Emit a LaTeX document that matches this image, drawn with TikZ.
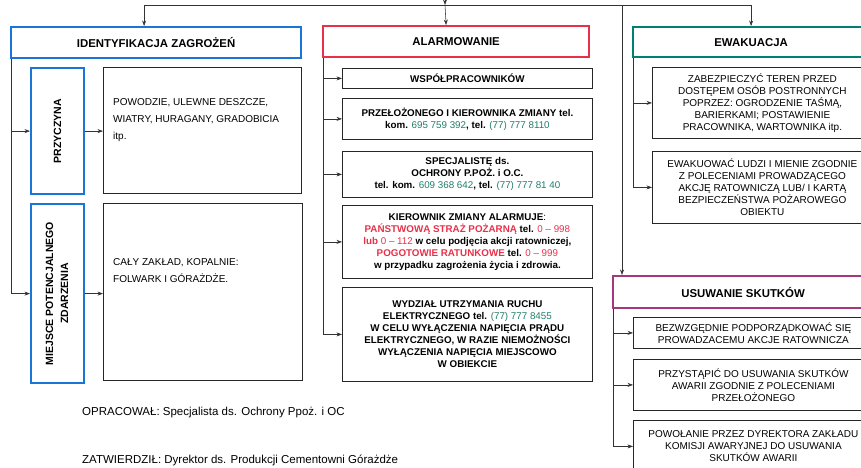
\documentclass[tikz,border=0pt]{standalone}
\usepackage{fontspec}
\setmainfont{Liberation Sans}
\usepackage{graphicx}
\usepackage{tikz}
\usetikzlibrary{positioning,shapes,arrows,arrows.meta,calc}

\definecolor{zblue}{RGB}{25,118,215}
\definecolor{zred}{RGB}{232,48,72}
\definecolor{zteal}{RGB}{0,128,112}
\definecolor{zpurple}{RGB}{165,55,125}
\definecolor{ztel}{RGB}{30,125,105}

\newcommand{\phon}[1]{\textcolor{ztel}{\mdseries #1}}
\newcommand{\alrm}[1]{\textcolor{zred}{#1}}
\newcommand{\alrmn}[1]{\textcolor{zred}{\mdseries #1}}

\tikzstyle{head} = [rectangle, line width=2.2pt, minimum height=31pt, anchor=north west, font=\fontsize{11.4}{14}\selectfont\bfseries]
\tikzstyle{side} = [rectangle, draw=zblue, line width=2.2pt, anchor=north west, inner sep=0pt, font=\fontsize{10.5}{15}\selectfont\bfseries]
\tikzstyle{item} = [rectangle, draw=black!85, line width=0.8pt, anchor=north west, align=center, inner sep=2pt, font=\fontsize{10}{12}\selectfont]
\tikzstyle{itemb} = [item, font=\fontsize{9.8}{12}\selectfont\bfseries]
\tikzstyle{plain} = [anchor=north west, align=left, inner sep=0pt, font=\fontsize{10}{17}\selectfont]
\tikzstyle{note} = [anchor=base west, inner sep=0pt, font=\fontsize{11.5}{14}\selectfont]
\tikzstyle{arrow} = [->,>={Stealth[length=5.5pt,width=4pt]},line width=0.55pt,draw=black!80]

\begin{document}
\begin{tikzpicture}[x=1pt,y=-1pt]
\useasboundingbox (0,0) rectangle (861,467);

% identyfikacja
\node (ident) [head, draw=zblue, minimum width=290pt] at (10,26) {IDENTYFIKACJA ZAGROŻEŃ};
\node (przyc) [side, minimum width=53pt, minimum height=126pt] at (30,67) {\rotatebox{90}{PRZYCZYNA}};
\node (cause) [item, minimum width=198pt, minimum height=126pt] at (103,67) {};
\node (causetxt) [plain] at (113,98) {POWODZIE, ULEWNE DESZCZE,\\ WIATRY, HURAGANY, GRADOBICIA\\ itp.};
\node (miejsce) [side, minimum width=53pt, minimum height=179pt] at (30,203) {\rotatebox{90}{\begin{tabular}{@{}c@{}}MIEJSCE POTENCJALNEGO\\ ZDARZENIA\end{tabular}}};
\node (place) [item, minimum width=199pt, minimum height=177pt] at (103,203) {};
\node (placetxt) [plain] at (113,258) {CAŁY ZAKŁAD, KOPALNIE:\\ FOLWARK I GÓRAŻDŻE.};

% alarmowanie
\node (alarm) [head, draw=zred, minimum width=266pt] at (322,25) {ALARMOWANIE};
\node (wsp) [itemb, minimum width=250pt, minimum height=20pt] at (342,68) {WSPÓŁPRACOWNIKÓW};
\node (przel) [itemb, minimum width=250pt, minimum height=41pt] at (342,98) {PRZEŁOŻONEGO I KIEROWNIKA ZMIANY tel.\\ kom. \phon{695 759 392}, tel. \phon{(77) 777 8110}};
\node (spec) [itemb, minimum width=250pt, minimum height=46pt] at (342,151) {SPECJALISTĘ ds.\\ OCHRONY P.POŻ. i O.C.\\ tel. kom. \phon{609 368 642}, tel. \phon{(77) 777 81 40}};
\node (kier) [itemb, minimum width=250pt, minimum height=73pt] at (342,205) {KIEROWNIK ZMIANY ALARMUJE\mdseries:\\ \alrm{PAŃSTWOWĄ STRAŻ POŻARNĄ} tel. \alrmn{0 – 998}\\ \alrm{lub} \alrmn{0 – 112} w celu podjęcia akcji ratowniczej,\\ \alrm{POGOTOWIE RATUNKOWE} tel. \alrmn{0 – 999}\\ w przypadku zagrożenia życia i zdrowia.};
\node (wydz) [itemb, minimum width=250pt, minimum height=94pt] at (342,287) {WYDZIAŁ UTRZYMANIA RUCHU\\ ELEKTRYCZNEGO tel. \phon{(77) 777 8455}\\ W CELU WYŁĄCZENIA NAPIĘCIA PRĄDU\\ ELEKTRYCZNEGO, W RAZIE NIEMOŻNOŚCI\\ WYŁĄCZENIA NAPIĘCIA MIEJSCOWO\\ W OBIEKCIE};

% ewakuacja
\node (ewak) [head, draw=zteal, minimum width=236pt, minimum height=30pt] at (632,26) {EWAKUACJA};
\node (zab) [item, minimum width=220pt, minimum height=71pt] at (652,67) {ZABEZPIECZYĆ TEREN PRZED\\ DOSTĘPEM OSÓB POSTRONNYCH\\ POPRZEZ: OGRODZENIE TAŚMĄ,\\ BARIERKAMI; POSTAWIENIE\\ PRACOWNIKA, WARTOWNIKA itp.};
\node (ewk) [item, minimum width=220pt, minimum height=72pt] at (652,151) {EWAKUOWAĆ LUDZI I MIENIE ZGODNIE\\ Z POLECENIAMI PROWADZĄCEGO\\ AKCJĘ RATOWNICZĄ LUB/ I KARTĄ\\ BEZPIECZEŃSTWA POŻAROWEGO\\ OBIEKTU};

% usuwanie skutkow
\node (usuw) [head, draw=zpurple, minimum width=260pt, minimum height=32pt] at (612,275) {USUWANIE SKUTKÓW};
\node (bezw) [item, minimum width=240pt, minimum height=31pt] at (633,317) {BEZWZGĘDNIE PODPORZĄDKOWAĆ SIĘ\\ PROWADZACEMU AKCJE RATOWNICZA};
\node (przy) [item, minimum width=240pt, minimum height=51pt] at (633,359) {PRZYSTĄPIĆ DO USUWANIA SKUTKÓW\\ AWARII ZGODNIE Z POLECENIAMI\\ PRZEŁOŻONEGO};
\node (powol) [item, minimum width=240pt, minimum height=52pt] at (633,420) {POWOŁANIE PRZEZ DYREKTORA ZAKŁADU\\ KOMISJI AWARYJNEJ DO USUWANIA\\ SKUTKÓW AWARII};

\node (oprac) [note] at (82,415) {OPRACOWAŁ: Specjalista ds. Ochrony Ppoż. i OC};
\node (zatw) [note] at (82,463) {ZATWIERDZIŁ: Dyrektor ds. Produkcji Cementowni Górażdże};

% top distribution
\coordinate (src) at (445,-8);
\coordinate (hub) at (445,5);
\draw [arrow] (src) -- (hub);
\draw [arrow] (hub) -| ([xshift=-12pt]ident.north);
\draw [arrow] (hub) -- ([xshift=-10pt]alarm.north);
\draw [arrow] (hub) -| (ewak.north);
\draw [arrow] (hub) -| ([xshift=10pt]usuw.north west);

\draw [arrow] ([xshift=1pt]ident.south west) |- (przyc.west);
\draw [arrow] ([xshift=1pt]ident.south west) |- (miejsce.west);
\draw [arrow] (przyc.east) -- (przyc.east -| cause.west);
\draw [arrow] (miejsce.east) -- (miejsce.east -| place.west);

\draw [arrow] ([xshift=1pt]alarm.south west) |- (wsp.west);
\draw [arrow] ([xshift=1pt]alarm.south west) |- (przel.west);
\draw [arrow] ([xshift=1pt]alarm.south west) |- (spec.west);
\draw [arrow] ([xshift=1pt]alarm.south west) |- (kier.west);
\draw [arrow] ([xshift=1pt]alarm.south west) |- (wydz.west);

\draw [arrow] ([xshift=1pt]ewak.south west) |- (zab.west);
\draw [arrow] ([xshift=1pt]ewak.south west) |- (ewk.west);

\draw [arrow] ([xshift=1pt]usuw.south west) |- (bezw.west);
\draw [arrow] ([xshift=1pt]usuw.south west) |- (przy.west);
\draw [arrow] ([xshift=1pt]usuw.south west) |- (powol.west);

\end{tikzpicture}
\end{document}
